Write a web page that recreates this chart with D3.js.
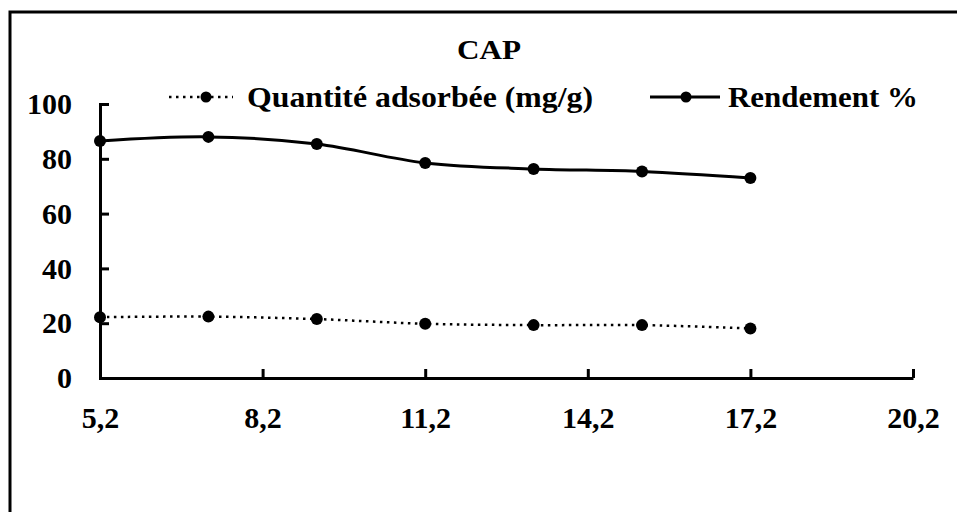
<!DOCTYPE html>
<html>
<head>
<meta charset="utf-8">
<script src="https://cdn.jsdelivr.net/npm/d3@7/dist/d3.min.js"></script>
<style>
  html, body { margin: 0; padding: 0; background: #fff; }
  svg { display: block; }
  text { font-family: "Liberation Serif", "Times New Roman", serif; font-weight: bold; fill: #000; }
</style>
</head>
<body>
<svg id="chart" width="957" height="512"></svg>
<script>
// ---- data ----
const title = "CAP";
const xValues = [5.2, 7.2, 9.2, 11.2, 13.2, 15.2, 17.2];
const rendement = [86.5, 88.0, 85.4, 78.5, 76.3, 75.4, 73.0];
const quantite = [22.2, 22.4, 21.5, 19.8, 19.3, 19.3, 18.1];
const seriesNames = ["Quantité adsorbée (mg/g)", "Rendement %"];
const xTicks = [5.2, 8.2, 11.2, 14.2, 17.2, 20.2];
const yTicks = [0, 20, 40, 60, 80, 100];

// ---- layout ----
const svg = d3.select("#chart");
const x = d3.scaleLinear().domain([5.2, 20.2]).range([100, 913]);
const y = d3.scaleLinear().domain([0, 100]).range([378, 104]);

// outer frame (extends past right/bottom edges)
svg.append("rect")
  .attr("x", 10).attr("y", 12).attr("width", 1000).attr("height", 600)
  .attr("fill", "none").attr("stroke", "#000").attr("stroke-width", 3);

// title
svg.append("text")
  .attr("x", 457).attr("y", 59)
  .attr("textLength", 64).attr("lengthAdjust", "spacingAndGlyphs")
  .style("font-size", "28px")
  .text(title);

const fmt = d => String(d).replace(".", ",");

// y axis
const yAxis = svg.append("g")
  .attr("transform", "translate(100,0)")
  .call(d3.axisLeft(y).tickValues(yTicks).tickSizeInner(-9).tickSizeOuter(0).tickPadding(28).tickFormat(d => d));
// x axis
const xAxis = svg.append("g")
  .attr("transform", "translate(0,378)")
  .call(d3.axisBottom(x).tickValues(xTicks).tickSizeInner(-9).tickSizeOuter(0).tickPadding(29).tickFormat(fmt));

[yAxis, xAxis].forEach(g => {
  g.selectAll("path, line").attr("stroke", "#000").attr("stroke-width", 3);
  g.selectAll("text").style("font-size", "30px").attr("fill", "#000")
    .style("font-family", '"Liberation Serif", "Times New Roman", serif').style("font-weight", "bold");
});
yAxis.select(".domain").attr("stroke-linecap", "square");

const pts = vals => xValues.map((d, i) => [d, vals[i]]);
const line = d3.line().x(d => x(d[0])).y(d => y(d[1])).curve(d3.curveCatmullRom.alpha(0));

// quantite (dotted)
svg.append("path")
  .datum(pts(quantite))
  .attr("d", line)
  .attr("fill", "none").attr("stroke", "#000").attr("stroke-width", 2.5)
  .attr("stroke-dasharray", "2.5,4.5");
svg.append("g").selectAll("circle").data(pts(quantite)).join("circle")
  .attr("cx", d => x(d[0])).attr("cy", d => y(d[1])).attr("r", 6).attr("fill", "#000");

// rendement (solid)
svg.append("path")
  .datum(pts(rendement))
  .attr("d", line)
  .attr("fill", "none").attr("stroke", "#000").attr("stroke-width", 3);
svg.append("g").selectAll("circle").data(pts(rendement)).join("circle")
  .attr("cx", d => x(d[0])).attr("cy", d => y(d[1])).attr("r", 6).attr("fill", "#000");

// legend
const lg = svg.append("g");
lg.append("line").attr("x1", 169).attr("x2", 233).attr("y1", 97).attr("y2", 97)
  .attr("stroke", "#000").attr("stroke-width", 2.5).attr("stroke-dasharray", "2.5,4.5");
lg.append("circle").attr("cx", 206).attr("cy", 97).attr("r", 5.5).attr("fill", "#000");
lg.append("text").attr("x", 247).attr("y", 107).style("font-size", "30px")
  .attr("textLength", 346).attr("lengthAdjust", "spacingAndGlyphs").text(seriesNames[0]);

lg.append("line").attr("x1", 650).attr("x2", 720).attr("y1", 97).attr("y2", 97)
  .attr("stroke", "#000").attr("stroke-width", 3);
lg.append("circle").attr("cx", 686).attr("cy", 97).attr("r", 5.5).attr("fill", "#000");
lg.append("text").attr("x", 728).attr("y", 107).style("font-size", "30px")
  .attr("textLength", 190).attr("lengthAdjust", "spacingAndGlyphs").text(seriesNames[1]);
</script>
</body>
</html>
